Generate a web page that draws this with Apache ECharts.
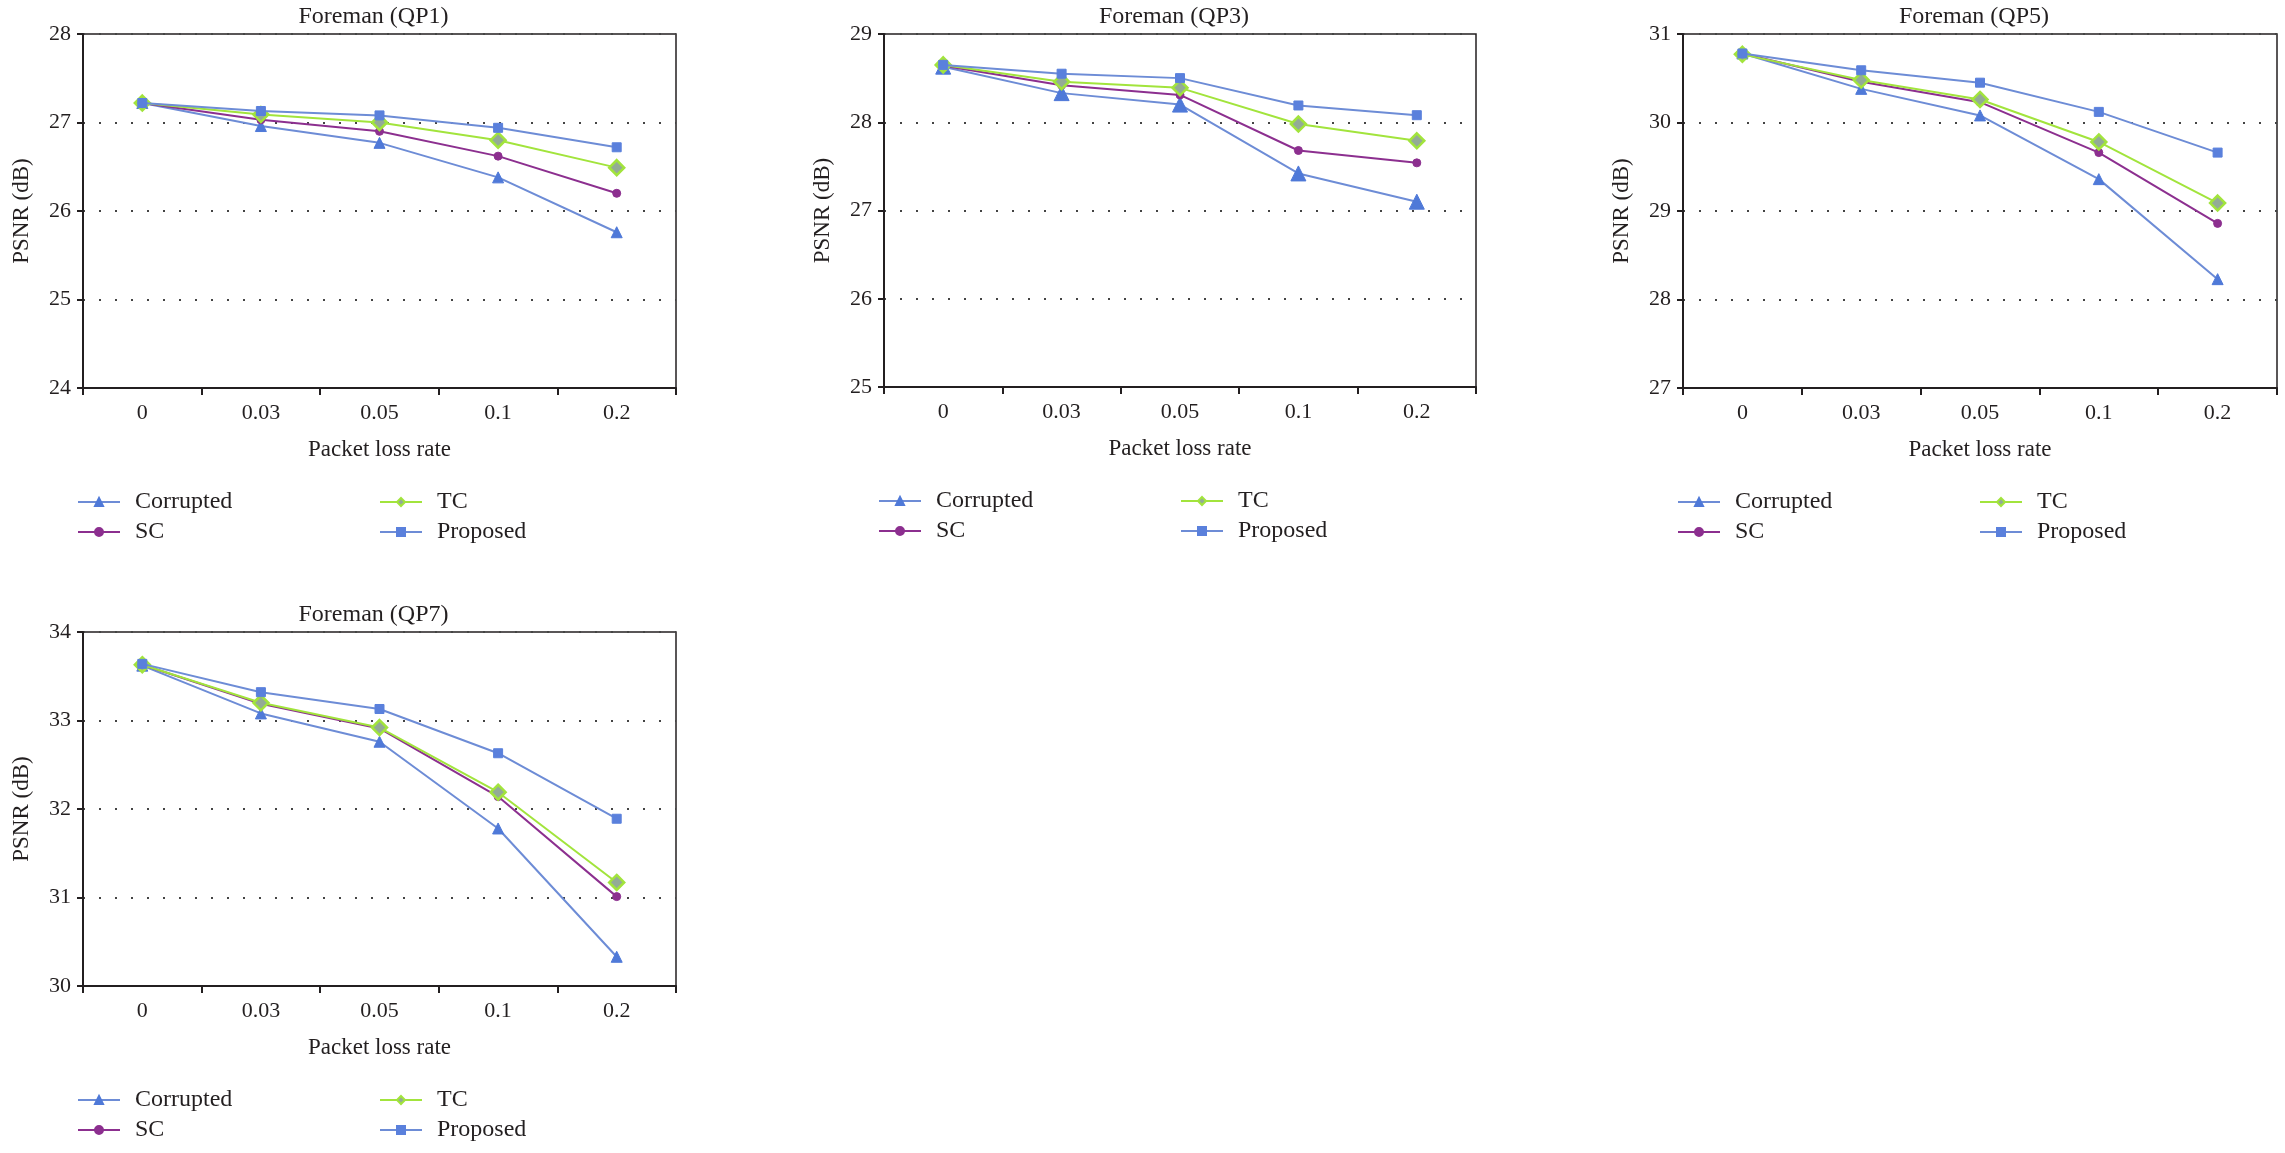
<!DOCTYPE html>
<html>
<head>
<meta charset="utf-8">
<script src="https://cdn.jsdelivr.net/npm/echarts@6/dist/echarts.min.js"></script>
<style>
html,body{margin:0;padding:0;background:#fff;}
#c{width:2285px;height:1153px;}
</style>
</head>
<body>
<div id="c"></div>
<script>
// ---- data ----
const categories = ['0', '0.03', '0.05', '0.1', '0.2'];
const seriesNames = ['Corrupted', 'SC', 'TC', 'Proposed'];
const panelTitles = ['Foreman (QP1)', 'Foreman (QP3)', 'Foreman (QP5)', 'Foreman (QP7)'];
const yMins = [24, 25, 27, 30];
const yMaxs = [28, 29, 31, 34];

const qp1Corrupted = [27.22, 26.96, 26.77, 26.38, 25.76];
const qp1SC        = [27.22, 27.03, 26.90, 26.62, 26.20];
const qp1TC        = [27.22, 27.09, 27.00, 26.80, 26.49];
const qp1Proposed  = [27.22, 27.13, 27.08, 26.94, 26.72];

const qp3Corrupted = [28.63, 28.33, 28.20, 27.42, 27.10];
const qp3SC        = [28.64, 28.42, 28.31, 27.68, 27.54];
const qp3TC        = [28.65, 28.46, 28.39, 27.98, 27.79];
const qp3Proposed  = [28.65, 28.55, 28.50, 28.19, 28.08];

const qp5Corrupted = [30.78, 30.38, 30.08, 29.36, 28.23];
const qp5SC        = [30.78, 30.46, 30.23, 29.66, 28.86];
const qp5TC        = [30.77, 30.48, 30.26, 29.78, 29.09];
const qp5Proposed  = [30.78, 30.59, 30.45, 30.12, 29.66];

const qp7Corrupted = [33.62, 33.08, 32.76, 31.78, 30.33];
const qp7SC        = [33.63, 33.19, 32.91, 32.14, 31.01];
const qp7TC        = [33.63, 33.20, 32.92, 32.19, 31.17];
const qp7Proposed  = [33.64, 33.32, 33.13, 32.63, 31.89];

const panelData = [
  [qp1Corrupted, qp1SC, qp1TC, qp1Proposed],
  [qp3Corrupted, qp3SC, qp3TC, qp3Proposed],
  [qp5Corrupted, qp5SC, qp5TC, qp5Proposed],
  [qp7Corrupted, qp7SC, qp7TC, qp7Proposed]
];

// ---- layout / style ----
const FONT = 'Liberation Serif';
const TXT = '#231f20';
const grids = [
  {left: 83,   top: 34,  width: 593, height: 354},
  {left: 884,  top: 34,  width: 592, height: 353},
  {left: 1683, top: 34,  width: 594, height: 354},
  {left: 83,   top: 632, width: 593, height: 354}
];
const styles = [
  {line: '#6d8cd6', fill: '#4f79d8', border: '#4f79d8', symbol: 'triangle', size: 11},
  {line: '#8c2f8f', fill: '#8c2f8f', border: '#8c2f8f', symbol: 'circle', size: 8},
  {line: '#a2e43c', fill: '#93ab96', border: '#a2e43c', symbol: 'diamond', size: 15},
  {line: '#6d8cd6', fill: '#5a80dc', border: '#5a80dc', symbol: 'rect', size: 9}
];

const option = {
  backgroundColor: '#ffffff',
  animation: false,
  title: [], grid: [], xAxis: [], yAxis: [], legend: [], series: []
};

grids.forEach((g, i) => {
  option.grid.push({
    left: g.left, top: g.top, width: g.width, height: g.height,
    show: true, borderColor: '#231f20', borderWidth: 1.5, backgroundColor: 'transparent'
  });
  option.title.push({
    text: panelTitles[i],
    left: g.left + g.width / 2 - 6, top: g.top - 29, textAlign: 'center', padding: 0,
    textStyle: {fontFamily: FONT, fontSize: 24, fontWeight: 'normal', color: TXT}
  });
  option.xAxis.push({
    type: 'category', gridIndex: i, data: categories, boundaryGap: true,
    name: 'Packet loss rate', nameLocation: 'middle', nameGap: 50,
    nameTextStyle: {fontFamily: FONT, fontSize: 23, color: TXT},
    axisLine: {lineStyle: {color: '#231f20', width: 2}},
    axisTick: {show: true, inside: false, length: 7, lineStyle: {color: '#231f20', width: 2}},
    axisLabel: {fontFamily: FONT, fontSize: 22, color: TXT, margin: 14},
    splitLine: {show: false}
  });
  option.yAxis.push({
    type: 'value', gridIndex: i, min: yMins[i], max: yMaxs[i], interval: 1,
    name: 'PSNR (dB)', nameLocation: 'middle', nameGap: 50,
    nameTextStyle: {fontFamily: FONT, fontSize: 23, color: TXT},
    axisLine: {show: true, lineStyle: {color: '#231f20', width: 2}},
    axisTick: {show: true, inside: false, length: 6, lineStyle: {color: '#231f20', width: 2}},
    axisLabel: {fontFamily: FONT, fontSize: 22, color: TXT, margin: 12},
    splitLine: {show: true, lineStyle: {color: '#444', width: 2, type: [2, 14]}}
  });
  const legendBase = {
    orient: 'vertical', top: g.top + g.height + 102, itemWidth: 42, itemHeight: 10,
    itemGap: 6, padding: 0, selectedMode: false,
    textStyle: {fontFamily: FONT, fontSize: 24, color: TXT, lineHeight: 24, padding: [0, 0, 0, 10]}
  };
  option.legend.push(Object.assign({}, legendBase, {left: g.left - 6, data: ['Corrupted', 'SC']}));
  option.legend.push(Object.assign({}, legendBase, {left: g.left + 296, data: ['TC', 'Proposed']}));

  seriesNames.forEach((name, k) => {
    const s = styles[k];
    let size = s.size;
    if (i === 1 && k === 0) size = 15;
    option.series.push({
      name: name, type: 'line', xAxisIndex: i, yAxisIndex: i,
      data: panelData[i][k],
      symbol: s.symbol, symbolSize: size,
      lineStyle: {color: s.line, width: 2},
      itemStyle: {color: s.fill, borderColor: s.border, borderWidth: k === 2 ? 2.5 : 1},
      z: 2 + k
    });
  });
});

const chart = echarts.init(document.getElementById('c'));
chart.setOption(option);
</script>
</body>
</html>
